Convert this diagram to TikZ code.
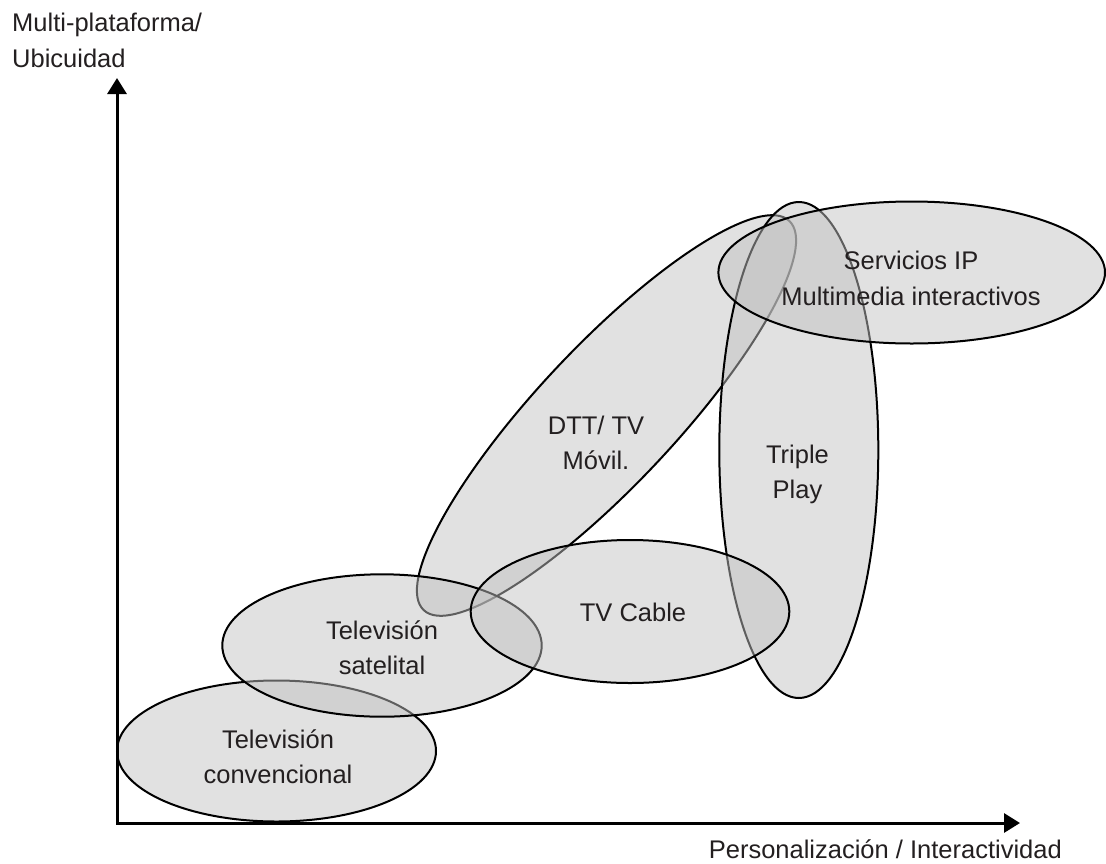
\documentclass[tikz,border=0pt]{standalone}
\usepackage{fontspec}
\setmainfont{Liberation Sans}
\usetikzlibrary{arrows.meta,shapes.geometric}
\definecolor{blobfill}{gray}{0.755}
\definecolor{inkgray}{HTML}{231F20}
\begin{document}
\begin{tikzpicture}[x=1pt,y=-1pt,
  blob/.style={ellipse, draw=black, line width=2pt, fill=blobfill,
    fill opacity=0.49, inner sep=0pt, outer sep=0pt},
  lbl/.style={font=\fontsize{25.5}{35.5}\selectfont, text=inkgray,
    align=center, inner sep=0pt},
  axis/.style={line width=3pt, line join=miter,
    {Triangle[length=16pt,width=19pt]}-{Triangle[length=16pt,width=19pt]}}]
\useasboundingbox (0,0) rectangle (1106,863);

% technology regions, drawn back to front
\node[blob, minimum width=319pt, minimum height=141pt] (conv) at (276.5,751) {};
\node[blob, minimum width=534pt, minimum height=138pt, rotate=46.8] (dtt) at (606.5,415.5) {};
\node[blob, minimum width=159pt, minimum height=496pt] (triple) at (798.8,450) {};
\node[blob, minimum width=386.6pt, minimum height=142pt] (serv) at (911.7,272.5) {};
\node[blob, minimum width=319.4pt, minimum height=142.4pt] (sat) at (382,645.5) {};
\node[blob, minimum width=318.6pt, minimum height=143pt] (cable) at (630,611.5) {};

% region labels
\node[lbl] (convtxt) at (278,758.8) {\strut Televisión\\\strut convencional};
\node[lbl] (sattxt) at (382,650) {\strut Televisión\\\strut satelital};
\node[lbl] (cabletxt) at (633,614.6) {\strut TV Cable};
\node[lbl] (dtttxt) at (596,444.7) {\strut DTT/ TV\\\strut Móvil.};
\node[lbl] (tripletxt) at (797.5,473.8) {\strut Triple\\\strut Play};
\node[lbl] (servtxt) at (911,280.5) {\strut Servicios IP\\\strut Multimedia interactivos};

% axes
\coordinate (origin) at (117,823);
\coordinate (ytip) at (117,78);
\coordinate (xtip) at (1020,823);
\draw[axis] (ytip) -- (origin) -- (xtip);

\node[lbl, align=left, anchor=north west] (ylabel) at (12,6.9)
  {\strut Multi-plataforma/\\\strut Ubicuidad};
\node[lbl, anchor=base east] (xlabel) at (1062,858)
  {Personalización / Interactividad};
\end{tikzpicture}
\end{document}
